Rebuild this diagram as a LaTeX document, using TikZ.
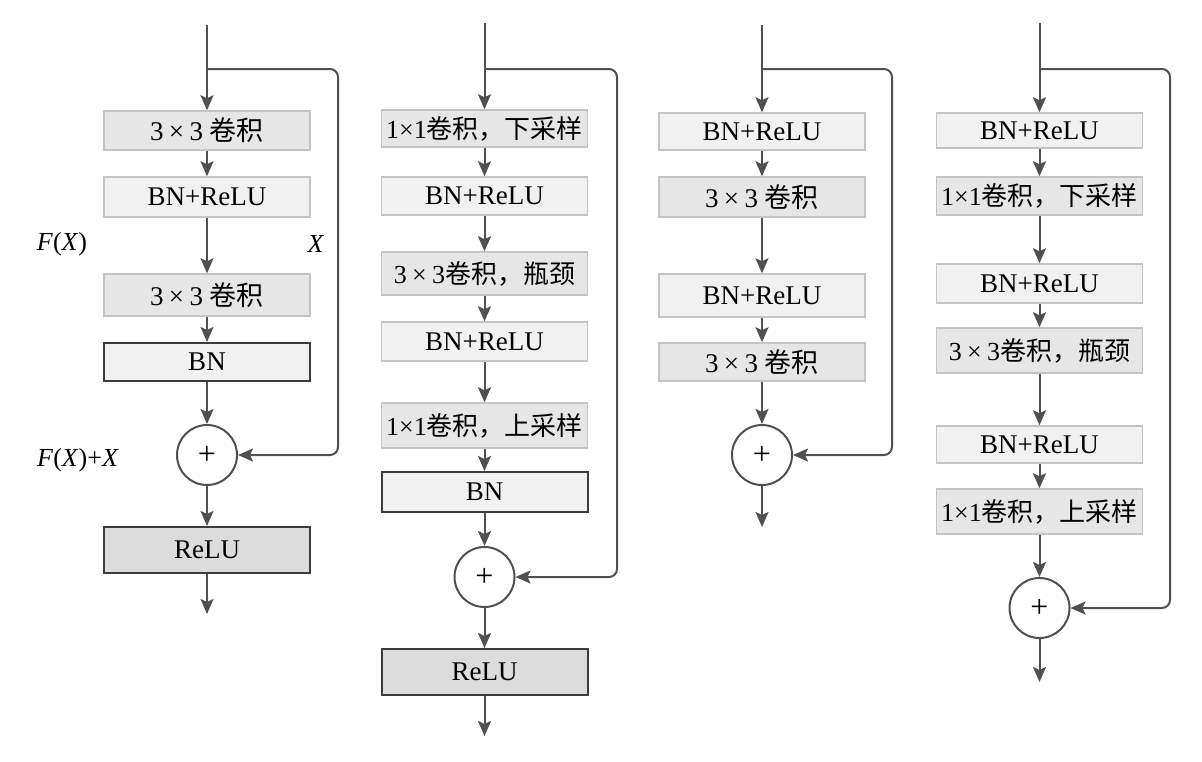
\documentclass[tikz,border=0pt]{standalone}
\usepackage{fontspec}
\setmainfont{Liberation Serif}
\newfontfamily\cjk{Noto Sans CJK SC}
\usetikzlibrary{arrows.meta}
\definecolor{ln}{HTML}{505050}
\definecolor{lightfill}{HTML}{F1F1F1}
\definecolor{convfill}{HTML}{E6E6E6}
\definecolor{relufill}{HTML}{DCDCDC}
\definecolor{lightedge}{HTML}{C4C4C4}
\definecolor{darkedge}{HTML}{3C3C3C}
\newcommand{\tms}{\hspace{0.2em}×\hspace{0.2em}}
\tikzset{
  base/.style={rectangle, minimum width=206pt, inner sep=0pt, font=\fontsize{27}{30}\selectfont},
  lightbox/.style={base, fill=lightfill, draw=lightedge, line width=1.5pt},
  convbox/.style={base, fill=convfill, draw=lightedge, line width=1.5pt},
  longtxt/.style={font=\fontsize{26}{30}\selectfont},
  bnbox/.style={base, fill=lightfill, draw=darkedge, line width=2pt},
  relubox/.style={base, fill=relufill, draw=darkedge, line width=2pt},
  sumnode/.style={circle, draw=ln, line width=2pt, minimum size=60pt, inner sep=0pt, font=\fontsize{32}{34}\selectfont},
  arr/.style={draw=ln, line width=2pt, -{Stealth[length=15pt,width=13pt,inset=3pt]}},
  lbl/.style={font=\fontsize{26}{30}\selectfont, inner sep=0pt}
}
\begin{document}
\begin{tikzpicture}[x=1pt,y=-1pt]
\useasboundingbox (0,0) rectangle (1202,761);
% ---------------- Column 1 ----------------
\coordinate (c1top) at (207,25);
\coordinate (c1br) at (207,69);
\coordinate (c1r1) at (338,69);
\coordinate (c1r2) at (338,455);
\node[convbox, minimum height=39pt] (c1b1) at (207,130.5) {3\tms3 {\cjk 卷积}};
\node[lightbox, minimum height=40pt] (c1b2) at (207,197) {BN+ReLU};
\node[convbox, minimum height=42pt] (c1b3) at (207,295) {3\tms3 {\cjk 卷积}};
\node[bnbox, minimum height=38pt] (c1b4) at (207,362) {BN};
\node[sumnode] (c1c) at (207,455) {+};
\node[relubox, minimum height=46pt] (c1b5) at (207,550) {ReLU};
\coordinate (c1end) at (207,614);
\draw[arr] (c1top) -- (c1b1);
\draw[arr] (c1b1) -- (c1b2);
\draw[arr] (c1b2) -- (c1b3);
\draw[arr] (c1b3) -- (c1b4);
\draw[arr] (c1b4) -- (c1c);
\draw[arr] (c1c) -- (c1b5);
\draw[arr] (c1b5) -- (c1end);
\draw[arr, rounded corners=8pt] (c1br) -- (c1r1) -- (c1r2) -- (c1c);
\node[lbl] (fx) at (62,244) {\textit{F}(\textit{X})};
\node[lbl] (xx) at (316,244) {\textit{X}};
\node[lbl] (fxx) at (78,460) {\textit{F}(\textit{X})+\textit{X}};
% ---------------- Column 2 ----------------
\coordinate (c2top) at (484.5,23);
\coordinate (c2br) at (484.5,69);
\coordinate (c2r1) at (617,69);
\coordinate (c2r2) at (617,577);
\node[convbox, longtxt, minimum height=37pt] (c2b1) at (484.5,128.5) {1×1{\cjk 卷积，下采样}};
\node[lightbox, minimum height=38pt] (c2b2) at (484.5,196) {BN+ReLU};
\node[convbox, longtxt, minimum height=43pt] (c2b3) at (484.5,273.5) {3\tms3{\cjk 卷积，瓶颈}};
\node[lightbox, minimum height=39pt] (c2b4) at (484.5,341.5) {BN+ReLU};
\node[convbox, longtxt, minimum height=45pt] (c2b5) at (484.5,425.5) {1×1{\cjk 卷积，上采样}};
\node[bnbox, minimum height=40pt] (c2b6) at (484.5,492) {BN};
\node[sumnode] (c2c) at (484.5,577) {+};
\node[relubox, minimum height=46pt] (c2b7) at (484.5,672) {ReLU};
\coordinate (c2end) at (484.5,736);
\draw[arr] (c2top) -- (c2b1);
\draw[arr] (c2b1) -- (c2b2);
\draw[arr] (c2b2) -- (c2b3);
\draw[arr] (c2b3) -- (c2b4);
\draw[arr] (c2b4) -- (c2b5);
\draw[arr] (c2b5) -- (c2b6);
\draw[arr] (c2b6) -- (c2c);
\draw[arr] (c2c) -- (c2b7);
\draw[arr] (c2b7) -- (c2end);
\draw[arr, rounded corners=8pt] (c2br) -- (c2r1) -- (c2r2) -- (c2c);
% ---------------- Column 3 ----------------
\coordinate (c3top) at (762,25);
\coordinate (c3br) at (762,69);
\coordinate (c3r1) at (892,69);
\coordinate (c3r2) at (892,455);
\node[lightbox, minimum height=37pt] (c3b1) at (762,131.5) {BN+ReLU};
\node[convbox, minimum height=40pt] (c3b2) at (762,197) {3\tms3 {\cjk 卷积}};
\node[lightbox, minimum height=43pt] (c3b3) at (762,295.5) {BN+ReLU};
\node[convbox, minimum height=38pt] (c3b4) at (762,362) {3\tms3 {\cjk 卷积}};
\node[sumnode] (c3c) at (762,455) {+};
\coordinate (c3end) at (762,527);
\draw[arr] (c3top) -- (c3b1);
\draw[arr] (c3b1) -- (c3b2);
\draw[arr] (c3b2) -- (c3b3);
\draw[arr] (c3b3) -- (c3b4);
\draw[arr] (c3b4) -- (c3c);
\draw[arr] (c3c) -- (c3end);
\draw[arr, rounded corners=8pt] (c3br) -- (c3r1) -- (c3r2) -- (c3c);
% ---------------- Column 4 ----------------
\coordinate (c4top) at (1039.5,23);
\coordinate (c4br) at (1039.5,69);
\coordinate (c4r1) at (1170,69);
\coordinate (c4r2) at (1170,608);
\node[lightbox, minimum height=35pt] (c4b1) at (1039.5,130.5) {BN+ReLU};
\node[convbox, longtxt, minimum height=38pt] (c4b2) at (1039.5,196) {1×1{\cjk 卷积，下采样}};
\node[lightbox, minimum height=39pt] (c4b3) at (1039.5,283.5) {BN+ReLU};
\node[convbox, longtxt, minimum height=45pt] (c4b4) at (1039.5,350.5) {3\tms3{\cjk 卷积，瓶颈}};
\node[lightbox, minimum height=37pt] (c4b5) at (1039.5,444.5) {BN+ReLU};
\node[convbox, longtxt, minimum height=45pt] (c4b6) at (1039.5,511.5) {1×1{\cjk 卷积，上采样}};
\node[sumnode] (c4c) at (1039.5,608) {+};
\coordinate (c4end) at (1039.5,682);
\draw[arr] (c4top) -- (c4b1);
\draw[arr] (c4b1) -- (c4b2);
\draw[arr] (c4b2) -- (c4b3);
\draw[arr] (c4b3) -- (c4b4);
\draw[arr] (c4b4) -- (c4b5);
\draw[arr] (c4b5) -- (c4b6);
\draw[arr] (c4b6) -- (c4c);
\draw[arr] (c4c) -- (c4end);
\draw[arr, rounded corners=8pt] (c4br) -- (c4r1) -- (c4r2) -- (c4c);
\end{tikzpicture}
\end{document}
